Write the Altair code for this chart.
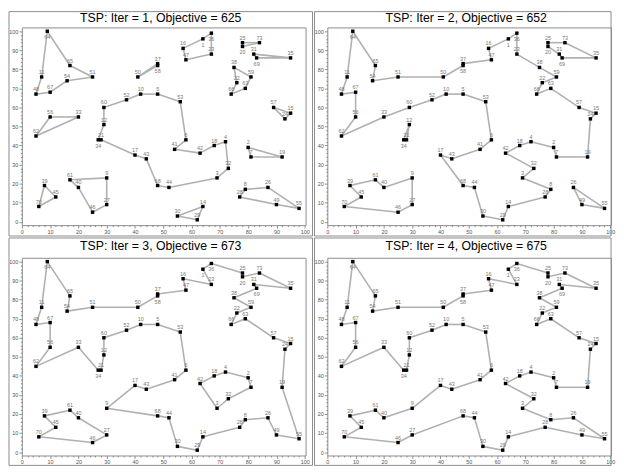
import altair as alt
import pandas as pd

# ---------------- data ----------------
city_label = ["64","65","54","51","50","37","58","47","16","23",
              "1","36","25","20","73","35","31","69","38","59",
              "22","66","63","57","15","24","19","55","49","26",
              "8","28","14","29","30","44","68","9","27","46",
              "70","45","39","61","40","17","43","41","6","53",
              "5","10","52","60","12","21","34","33","62","56",
              "67","48","11","42","18","4","2","7","32","3"]
city_x = [9,17,16,25,41,48,48,58,57,67,
          64,67,78,78,84,95,82,83,75,81,
          76,74,79,89,95,93,92,98,90,87,
          79,77,64,62,55,52,48,30,30,25,
          6,12,8,17,20,40,44,54,58,56,
          48,42,37,29,29,28,27,20,5,10,
          10,5,7,63,68,72,80,81,73,69]
city_y = [100,82,74,76,76,83,82,85,91,88,
          96,99,94,92,94,86,88,86,81,76,
          73,67,70,60,57,54,34,7,9,18,
          17,13,8,1,3,18,19,23,9,5,
          8,13,19,22,18,35,33,38,43,63,
          67,67,64,60,51,43,43,55,45,55,
          68,67,76,36,40,42,39,34,28,23]
labels_below = ["64","1","36","20","69","58","34"]

iterations = [1, 2, 3, 4]
objectives = [625, 652, 673, 675]

tour_iter1 = [
    ["64","65","51","54","67","48","11"],
    ["50","37","58"],
    ["16","1","36","23","47"],
    ["25","73","20"],
    ["31","35","69"],
    ["38","59","63","66","22"],
    ["57","15","24"],
    ["60","52","10","5","53","6","41","42","18","4","32","3","44","68","43","17","21","34","12"],
    ["56","33","62"],
    ["39","45","70"],
    ["61","9","27","46","40"],
    ["2","19","7"],
    ["8","26","55","49","28"],
    ["14","30","29"],
]
tour_iter2 = [
    ["33","60","52","10","5","53","6","41","43","17","68","44","30","29","14","28","8","3","32","42",
     "18","4","2","7","19","24","15","57","63","66","22","59","38","23","36","1","16","47","37","58",
     "50","51","54","65","64","11","48","67","56","62"],
    ["25","73","35","69","31","20"],
    ["12","21","34"],
    ["26","49","55"],
    ["39","61","40","9","27","46","70","45"],
]
tour_iter3 = [
    ["64","65","54","51","50","58","37","47","16","23","1","36","25","20","73","35","31","69","38","59",
     "22","66","63","57","15","24","19","55","49","26","8","28","14","29","30","44","68","9","17","43",
     "41","6","53","5","10","52","60","12","21","34","33","62","56","67","48","11"],
    ["42","18","4","2","7","32","3"],
    ["39","61","40","27","46","70","45"],
]
tour_iter4 = [
    ["64","65","54","51","50","58","37","47","16","23","1","36","25","20","73","35","31","69","38","59",
     "22","66","63","57","15","24","19","7","2","4","18","42","32","3","8","26","55","49","28","14",
     "29","30","44","68","27","46","70","45","39","61","40","9","17","43","41","6","53","5","10","52",
     "60","12","21","34","33","62","56","67","48","11"],
]
tours = [tour_iter1, tour_iter2, tour_iter3, tour_iter4]

tick_values = list(range(0, 101, 2))

# ---------------- build ----------------
W, H = 287, 200
xs = alt.Scale(domain=[0, 100.3], nice=False, zero=False)
ys = alt.Scale(domain=[-1.8, 102], nice=False, zero=False)

cities = pd.DataFrame({"label": city_label, "x": city_x, "y": city_y})
cities["pos"] = ["below" if l in labels_below else "above" for l in city_label]
coord = {l: (x, y) for l, x, y in zip(city_label, city_x, city_y)}
one = pd.DataFrame({"k": [0]})

FRAME = "#8c8c8c"


def make_axis(orient):
    return alt.Axis(
        orient=orient, values=tick_values,
        labelExpr="datum.value % 10 === 0 ? datum.label : ''",
        tickSize={"condition": {"test": "datum.value % 10 === 0", "value": 3}, "value": 1.5},
        domain=False, grid=False, title=None,
        labelFontSize=5.5, labelColor="#555555", labelFont="Liberation Sans",
        tickColor="#777777", tickWidth=0.8, labelPadding=1,
        labelOverlap=False, labelFlush=False,
    )


ax_x = make_axis("bottom")
ax_y = make_axis("left")


def edges_df(tour):
    rows = []
    for cyc in tour:
        n = len(cyc)
        for i in range(n):
            a, b = cyc[i], cyc[(i + 1) % n]
            rows.append({"x": coord[a][0], "y": coord[a][1],
                         "x2": coord[b][0], "y2": coord[b][1]})
    return pd.DataFrame(rows)


def panel(idx):
    top = idx < 2
    left = idx % 2 == 0
    it, obj, tour = iterations[idx], objectives[idx], tours[idx]
    T = -16 if top else -20
    B = H + 11 if top else H + 10
    R = W + 7 if left else W

    frame = alt.Chart(one).mark_rect(fillOpacity=0, stroke=FRAME, strokeWidth=1).encode(
        x=alt.value(-13), x2=alt.value(R), y=alt.value(T), y2=alt.value(B))

    title = alt.Chart(one).mark_text(
        text=f"TSP: Iter = {it}, Objective = {obj}", fontSize=12.4,
        font="Liberation Sans", baseline="top", align="center", color="black"
    ).encode(x=alt.value(140.5), y=alt.value(-15.5 if top else -18))

    edges = alt.Chart(edges_df(tour)).mark_rule(color="#b0b0b0", strokeWidth=1.6).encode(
        x=alt.X("x:Q", scale=xs, axis=ax_x),
        y=alt.Y("y:Q", scale=ys, axis=ax_y),
        x2="x2:Q", y2="y2:Q")

    pts = alt.Chart(cities).mark_square(size=12, color="black", opacity=1).encode(
        x=alt.X("x:Q", scale=xs, axis=ax_x),
        y=alt.Y("y:Q", scale=ys, axis=ax_y))

    lab_above = alt.Chart(cities).transform_filter("datum.pos === 'above'").mark_text(
        fontSize=5.5, color="#777777", opacity=0.99, dy=-5, font="Liberation Sans").encode(
        x=alt.X("x:Q", scale=xs, axis=ax_x),
        y=alt.Y("y:Q", scale=ys, axis=ax_y),
        text="label:N")
    lab_below = alt.Chart(cities).transform_filter("datum.pos === 'below'").mark_text(
        fontSize=5.5, color="#777777", opacity=0.99, dy=6, font="Liberation Sans").encode(
        x=alt.X("x:Q", scale=xs, axis=ax_x),
        y=alt.Y("y:Q", scale=ys, axis=ax_y),
        text="label:N")

    return alt.layer(frame, title, edges, pts, lab_above, lab_below).properties(width=W, height=H)


chart = alt.vconcat(
    alt.hconcat(panel(0), panel(1), spacing=0),
    alt.hconcat(panel(2), panel(3), spacing=0),
    spacing=0,
).configure_view(stroke=FRAME, strokeWidth=1).properties(padding=0)

chart.save("out.html", embed_options={"renderer": "svg", "actions": False})
